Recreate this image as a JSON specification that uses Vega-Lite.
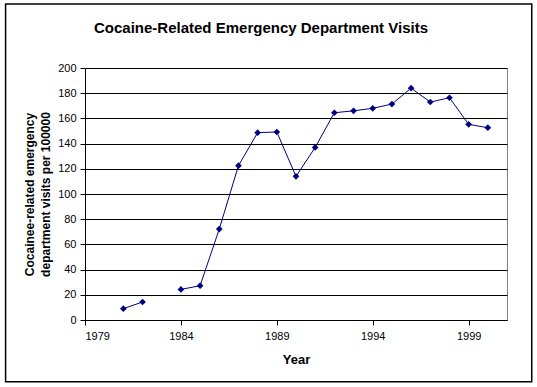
{
  "$schema": "https://vega.github.io/schema/vega-lite/v6.json",
  "width": 422,
  "height": 252,
  "autosize": {"type": "none"},
  "padding": {"left": 85, "top": 68, "right": 30, "bottom": 67},
  "background": "white",
  "title": {
    "text": "Cocaine-Related Emergency Department Visits",
    "font": "Liberation Sans",
    "fontSize": 15,
    "fontWeight": "bold",
    "color": "black",
    "anchor": "middle",
    "frame": "group",
    "dx": -35,
    "offset": -33
  },
  "config": {
    "view": {"stroke": "#808080", "strokeWidth": 1},
    "axis": {
      "labelFont": "Liberation Sans",
      "labelFontSize": 11,
      "labelColor": "black",
      "labelOverlap": false,
      "titleFont": "Liberation Sans",
      "titleColor": "black",
      "titleFontWeight": "bold",
      "domainColor": "black",
      "tickColor": "black",
      "tickSize": 5
    }
  },
  "data": {
    "values": [
      {"Year": 1981, "Visits": 9},
      {"Year": 1982, "Visits": 14.3},
      {"Year": 1983, "Visits": null},
      {"Year": 1984, "Visits": 24.3},
      {"Year": 1985, "Visits": 27.2},
      {"Year": 1986, "Visits": 72.2},
      {"Year": 1987, "Visits": 122.5},
      {"Year": 1988, "Visits": 148.7},
      {"Year": 1989, "Visits": 149.2},
      {"Year": 1990, "Visits": 114},
      {"Year": 1991, "Visits": 137},
      {"Year": 1992, "Visits": 164.5},
      {"Year": 1993, "Visits": 166},
      {"Year": 1994, "Visits": 168},
      {"Year": 1995, "Visits": 171.4},
      {"Year": 1996, "Visits": 184},
      {"Year": 1997, "Visits": 173},
      {"Year": 1998, "Visits": 176.4},
      {"Year": 1999, "Visits": 155.3},
      {"Year": 2000, "Visits": 152.6}
    ]
  },
  "layer": [
    {
      "mark": {"type": "line", "color": "#000080", "strokeWidth": 1, "invalid": "break-paths-show-domains"},
      "encoding": {
        "x": {
          "field": "Year",
          "type": "quantitative",
          "scale": {"domain": [1979, 2001], "nice": false, "zero": false},
          "axis": {
            "values": [1979, 1984, 1989, 1994, 1999],
            "format": "d",
            "title": "Year",
            "titleFontSize": 13,
            "titlePadding": 12,
            "labelPadding": 5,
            "grid": false
          }
        },
        "y": {
          "field": "Visits",
          "type": "quantitative",
          "scale": {"domain": [0, 200], "nice": false},
          "axis": {
            "values": [0, 20, 40, 60, 80, 100, 120, 140, 160, 180, 200],
            "title": ["Cocainee-related emergency", "department visits per 100000"],
            "titleFontSize": 12,
            "titleLineHeight": 16,
            "titlePadding": 5,
            "labelPadding": 4,
            "grid": true,
            "gridColor": "black",
            "gridOpacity": 1,
            "gridWidth": 1
          }
        }
      }
    },
    {
      "mark": {"type": "point", "shape": "diamond", "filled": true, "size": 45, "color": "#000080", "opacity": 1},
      "encoding": {
        "x": {
          "field": "Year",
          "type": "quantitative",
          "axis": {
            "values": [1979, 1984, 1989, 1994, 1999],
            "format": "d",
            "title": "Year",
            "titleFontSize": 13,
            "titlePadding": 12,
            "labelPadding": 5,
            "grid": false
          }
        },
        "y": {
          "field": "Visits",
          "type": "quantitative",
          "axis": {
            "values": [0, 20, 40, 60, 80, 100, 120, 140, 160, 180, 200],
            "title": ["Cocainee-related emergency", "department visits per 100000"],
            "titleFontSize": 12,
            "titleLineHeight": 16,
            "titlePadding": 5,
            "labelPadding": 4,
            "grid": true,
            "gridColor": "black",
            "gridOpacity": 1,
            "gridWidth": 1
          }
        }
      }
    },
    {
      "data": {"values": [{}]},
      "mark": {"type": "rect", "fillOpacity": 0, "stroke": "black", "strokeWidth": 1.5, "clip": false},
      "encoding": {
        "x": {
          "datum": 1974.86,
          "type": "quantitative",
          "axis": {
            "values": [1979, 1984, 1989, 1994, 1999],
            "format": "d",
            "title": "Year",
            "titleFontSize": 13,
            "titlePadding": 12,
            "labelPadding": 5,
            "grid": false
          }
        },
        "x2": {"datum": 2002.29},
        "y": {
          "datum": 250.8,
          "type": "quantitative",
          "axis": {
            "values": [0, 20, 40, 60, 80, 100, 120, 140, 160, 180, 200],
            "title": ["Cocainee-related emergency", "department visits per 100000"],
            "titleFontSize": 12,
            "titleLineHeight": 16,
            "titlePadding": 5,
            "labelPadding": 4,
            "grid": true,
            "gridColor": "black",
            "gridOpacity": 1,
            "gridWidth": 1
          }
        },
        "y2": {"datum": -49}
      }
    }
  ]
}
